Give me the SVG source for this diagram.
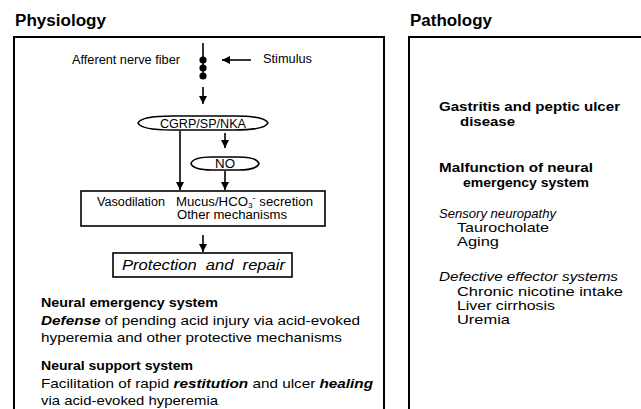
<svg xmlns="http://www.w3.org/2000/svg" width="641" height="409" viewBox="0 0 641 409">
<defs>
<marker id="ah" viewBox="0 0 10 10" refX="10" refY="5" markerWidth="8" markerHeight="8" markerUnits="userSpaceOnUse" orient="auto">
<path d="M0,0 L10,5 L0,10 Z" fill="#000"/>
</marker>
<style>
text{font-family:"Liberation Sans",Arial,sans-serif;fill:#000}
.t{font-size:16px;font-weight:bold}
.s{font-size:12px}
.b{font-size:13.5px}
.bb{font-size:13.5px;font-weight:bold}
.r{font-size:13.5px}
.rb{font-size:13.5px;font-weight:bold}
.i{font-style:italic}
.frame{fill:none;stroke:#000;stroke-width:2}
.box{fill:#fff;stroke:#000;stroke-width:1.6}
.ln{fill:none;stroke:#000;stroke-width:1.6}
</style>
</defs>
<rect width="641" height="409" fill="#fff"/>

<g id="physiology-panel">
<text class="t" x="15" y="26" textLength="91" lengthAdjust="spacingAndGlyphs">Physiology</text>
<path class="frame" d="M14,410 V37 H384 V410"/>
</g>

<g id="pathology-panel">
<text class="t" x="410" y="26" textLength="82" lengthAdjust="spacingAndGlyphs">Pathology</text>
<path class="frame" d="M409,410 V37 H641"/>
</g>

<g id="connectors">
<line class="ln" x1="203" y1="43" x2="203" y2="78"/>
<line class="ln" x1="251" y1="60" x2="222" y2="60" marker-end="url(#ah)"/>
<line class="ln" x1="203" y1="87" x2="203" y2="104" marker-end="url(#ah)"/>
<line class="ln" x1="180" y1="131" x2="180" y2="190" marker-end="url(#ah)"/>
<line class="ln" x1="225" y1="133" x2="225" y2="148" marker-end="url(#ah)"/>
<line class="ln" x1="225" y1="171" x2="225" y2="190" marker-end="url(#ah)"/>
<line class="ln" x1="203" y1="235" x2="203" y2="252" marker-end="url(#ah)"/>
</g>

<g id="nerve-fiber">
<circle cx="203" cy="60" r="3.6" fill="#000"/>
<circle cx="203" cy="68" r="3.6" fill="#000"/>
<circle cx="203" cy="76" r="3.6" fill="#000"/>
<text class="s" x="72" y="64" textLength="108" lengthAdjust="spacingAndGlyphs">Afferent nerve fiber</text>
</g>

<g id="stimulus">
<text class="s" x="263" y="63" textLength="49" lengthAdjust="spacingAndGlyphs">Stimulus</text>
</g>

<g id="cgrp">
<path class="box" d="M138,123 Q141,116 172,116 L234,116 Q265,116 268,123 Q265,130 234,130 L172,130 Q141,130 138,123 Z"/>
<text class="s" x="160" y="127.5" textLength="86" lengthAdjust="spacingAndGlyphs">CGRP/SP/NKA</text>
</g>

<g id="no">
<path class="box" d="M191,163.5 Q193,157 212,157 L238,157 Q257,157 259,163.5 Q257,170 238,170 L212,170 Q193,170 191,163.5 Z"/>
<text class="s" x="215" y="168" textLength="20" lengthAdjust="spacingAndGlyphs">NO</text>
</g>

<g id="effects">
<rect class="box" x="81" y="191" width="244" height="35"/>
<text class="s" x="97" y="206" textLength="68" lengthAdjust="spacingAndGlyphs">Vasodilation</text>
<text class="s" x="176" y="206" textLength="137" lengthAdjust="spacingAndGlyphs">Mucus/HCO<tspan font-size="7.5" dy="2">3</tspan><tspan font-size="8.5" dy="-7">-</tspan><tspan dy="5"> secretion</tspan></text>
<text class="s" x="177" y="219" textLength="110" lengthAdjust="spacingAndGlyphs">Other mechanisms</text>
</g>

<g id="protection">
<rect class="box" x="113" y="253" width="179" height="24"/>
<text class="i" x="122" y="270" style="font-size:14.5px" word-spacing="4" textLength="163" lengthAdjust="spacingAndGlyphs">Protection and repair</text>
</g>

<g id="physiology-text">
<text class="bb" x="41" y="307" textLength="177" lengthAdjust="spacingAndGlyphs">Neural emergency system</text>
<text class="b" x="41" y="325" textLength="319" lengthAdjust="spacingAndGlyphs"><tspan font-weight="bold" font-style="italic">Defense</tspan> of pending acid injury via acid-evoked</text>
<text class="b" x="41" y="342" textLength="301" lengthAdjust="spacingAndGlyphs">hyperemia and other protective mechanisms</text>
<text class="bb" x="41" y="370" textLength="152" lengthAdjust="spacingAndGlyphs">Neural support system</text>
<text class="b" x="41" y="388" textLength="332" lengthAdjust="spacingAndGlyphs">Facilitation of rapid <tspan font-weight="bold" font-style="italic">restitution</tspan> and ulcer <tspan font-weight="bold" font-style="italic">healing</tspan></text>
<text class="b" x="41" y="405" textLength="177" lengthAdjust="spacingAndGlyphs">via acid-evoked hyperemia</text>
</g>

<g id="pathology-text">
<text class="rb" x="439" y="111" textLength="181" lengthAdjust="spacingAndGlyphs">Gastritis and peptic ulcer</text>
<text class="rb" x="460" y="125.5" textLength="55" lengthAdjust="spacingAndGlyphs">disease</text>
<text class="rb" x="439" y="172" textLength="154" lengthAdjust="spacingAndGlyphs">Malfunction of neural</text>
<text class="rb" x="463" y="187" textLength="126" lengthAdjust="spacingAndGlyphs">emergency system</text>
<text class="r i" x="439" y="218" textLength="117" lengthAdjust="spacingAndGlyphs">Sensory neuropathy</text>
<text class="r" x="457" y="232" textLength="92" lengthAdjust="spacingAndGlyphs">Taurocholate</text>
<text class="r" x="457" y="246" textLength="42" lengthAdjust="spacingAndGlyphs">Aging</text>
<text class="r i" x="439" y="281" textLength="179" lengthAdjust="spacingAndGlyphs">Defective effector systems</text>
<text class="r" x="457" y="296" textLength="166" lengthAdjust="spacingAndGlyphs">Chronic nicotine intake</text>
<text class="r" x="457" y="310" textLength="98" lengthAdjust="spacingAndGlyphs">Liver cirrhosis</text>
<text class="r" x="457" y="324" textLength="53" lengthAdjust="spacingAndGlyphs">Uremia</text>
</g>
</svg>
